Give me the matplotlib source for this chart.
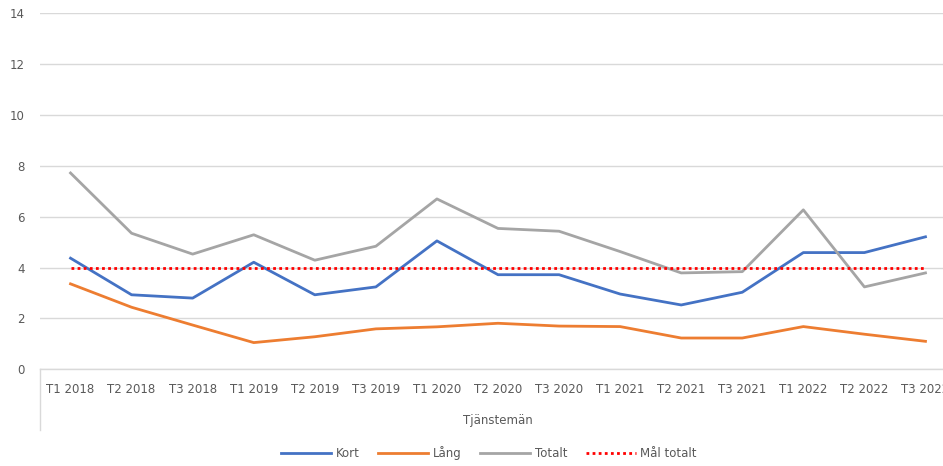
import matplotlib
matplotlib.use("Agg")
import matplotlib.pyplot as plt

# Sjukfrånvaro per tertial, tjänstemän
perioder = ["T1 2018", "T2 2018", "T3 2018", "T1 2019", "T2 2019", "T3 2019",
            "T1 2020", "T2 2020", "T3 2020", "T1 2021", "T2 2021", "T3 2021",
            "T1 2022", "T2 2022", "T3 2022"]
kort = [4.37, 2.93, 2.80, 4.21, 2.93, 3.24, 5.05, 3.72, 3.72, 2.96, 2.53, 3.03, 4.59, 4.59, 5.21]
lang = [3.36, 2.44, 1.74, 1.05, 1.28, 1.59, 1.67, 1.81, 1.70, 1.68, 1.23, 1.23, 1.68, 1.38, 1.10]
totalt = [7.72, 5.35, 4.53, 5.29, 4.29, 4.84, 6.70, 5.54, 5.43, 4.63, 3.79, 3.84, 6.27, 3.24, 3.79]
mal_totalt = [4] * len(perioder)
grupp = "Tjänstemän"

textfarg = "#595959"
gridfarg = "#d9d9d9"

plt.rcParams["font.family"] = ["DejaVu Sans"]

fig = plt.figure(figsize=(9.43, 4.66), dpi=100)
# the category axis runs a bit past the right edge of the picture, as in the original
ax = fig.add_axes([40 / 943, 1 - 369.3 / 466, 916 / 943, 356 / 466])

x = range(len(perioder))
ax.plot(x, kort, color="#4472C4", lw=2.0, label="Kort")
ax.plot(x, lang, color="#ED7D31", lw=2.0, label="Lång")
ax.plot(x, totalt, color="#A5A5A5", lw=2.0, label="Totalt")
ax.plot(x, mal_totalt, color="#FF0000", lw=2.0, ls=(0, (1, 1.2)), label="Mål totalt")

ax.set_xlim(-0.5, len(perioder) - 0.5)
ax.set_ylim(0, 14)
ax.set_yticks(range(0, 15, 2))
ax.set_xticks(list(x))
ax.set_xticklabels(perioder)

ax.grid(axis="y", color=gridfarg, lw=1.0)
ax.set_axisbelow(True)
for side in ["top", "right", "left"]:
    ax.spines[side].set_visible(False)
ax.spines["bottom"].set_color(gridfarg)
ax.spines["bottom"].set_linewidth(1.0)

ax.tick_params(axis="y", length=0, pad=11, labelsize=8.5, labelcolor=textfarg)
ax.tick_params(axis="x", length=0, pad=10, labelsize=8.5, labelcolor=textfarg)

# divider line of the two-level category axis
ax.plot([0, 0], [0, -0.17], transform=ax.transAxes, color=gridfarg, lw=1.0, clip_on=False)
ax.text(0.5, -0.143, grupp, transform=ax.transAxes, ha="center", va="center",
        fontsize=8.5, color=textfarg)

fig.legend(loc="center", bbox_to_anchor=(489 / 943, 1 - 453 / 466), ncol=4,
           frameon=False, fontsize=8.5, labelcolor=textfarg, handlelength=4.2,
           handletextpad=0.4, columnspacing=1.6)

fig.savefig("out.png", dpi=100)
